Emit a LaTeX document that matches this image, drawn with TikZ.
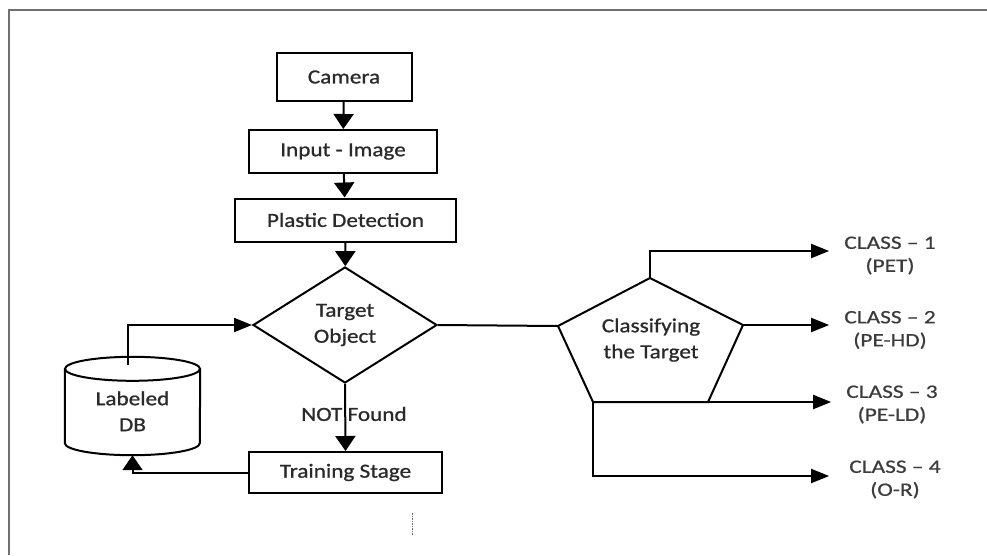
\documentclass[tikz,border=0pt]{standalone}
\usepackage{fontspec}
\setmainfont{Carlito}[FakeStretch=1.16, FakeBold=0.9]
\newfontfamily\clsfont{Carlito}[FakeStretch=1.23, FakeBold=0.6]
\usetikzlibrary{shapes.geometric, arrows.meta}
\definecolor{txt}{HTML}{2A2A2A}
\definecolor{clstxt}{HTML}{3C3C3C}
\definecolor{framec}{HTML}{707070}
\begin{document}
\begin{tikzpicture}[x=1pt,y=-1pt,
  lbl/.style={font=\fontsize{20}{26}\selectfont, text=txt, align=center},
  box/.style={lbl, draw, line width=2pt, inner sep=0pt},
  ln/.style={line width=2pt},
  varr/.style={ln, -{Triangle[length=15pt,width=20pt]}},
  harr/.style={ln, -{Triangle[length=18pt,width=14pt]}},
  cls/.style={font=\clsfont\fontsize{19}{23}\selectfont, text=clstxt, align=center, inner xsep=15pt, inner ysep=0pt}]
\useasboundingbox (0,0) rectangle (987,555);
\fill[white] (0,0) rectangle (987,555);
\draw[framec, line width=2.2pt] (987,10) -- (9,10) -- (9,555);

% main column
\node[box, minimum width=135pt, minimum height=48pt] (cam) at (344,77) {Camera};
\node[box, minimum width=188pt, minimum height=43pt] (inp) at (343,151.5) {Input - Image};
\node[box, minimum width=221pt, minimum height=43pt] (pd) at (345.5,220) {Plastic Detection};
\node[box, diamond, aspect=1.586, minimum width=184pt, minimum height=116pt] (obj) at (345,325) {Target\\Object};
\node[box, minimum width=193pt, minimum height=41pt] (train) at (345.5,472.5) {Training Stage};

\draw[varr] (cam) -- (inp);
\draw[varr] (inp) -- (pd);
\draw[varr] (pd) -- (obj);
\draw[varr] (obj.south) -- (train.north);
\node[lbl] (nf) at (354,414) {NOT Found};

% labeled DB cylinder
\node[lbl, minimum width=135pt, minimum height=98pt, inner sep=0pt] (db) at (132.5,406)
  {\raisebox{-7pt}[\height][\depth]{\begin{tabular}{@{}c@{}}Labeled\\DB\end{tabular}}};
\draw[ln] ([yshift=-12pt]db.north west) -- ([yshift=12pt]db.south west)
  arc[start angle=180, end angle=360, x radius=67.5pt, y radius=12pt]
  -- ([yshift=-12pt]db.north east);
\draw[ln] ([yshift=-12pt]db.north) ellipse [x radius=67.5pt, y radius=12pt];

\draw[harr] ([xshift=-4.5pt,yshift=-8pt]db.north) |- (obj.west);
\draw[varr] (train.west) -| (db.south);

% dotted mark
\draw[framec, line width=1pt, dash pattern=on 1.5pt off 1pt] (412,513) -- (412,535);

% classifier pentagon
\coordinate (pt) at (650,278);
\coordinate (pr) at (743,325);
\coordinate (pbr) at (708,402);
\coordinate (pbl) at (593,402);
\coordinate (pl) at (558,326);
\draw[ln, line join=miter] (pt) -- (pr) -- (pbr) -- (pbl) -- (pl) -- cycle;
\node[lbl] (clsf) at (651,340) {Classifying\\the Target};
\draw[ln] (obj.east) -- (pl);

% classes
\node[cls] (c1) at (890,255.5) {CLASS – 1\\(PET)};
\node[cls] (c2) at (890,330) {CLASS – 2\\(PE-HD)};
\node[cls] (c3) at (892,404.5) {CLASS – 3\\(PE-LD)};
\node[cls, inner xsep=20pt] (c4) at (895,479.5) {CLASS – 4\\(O-R)};

\draw[harr] (pt) |- ([yshift=4.5pt]c1.west);
\draw[harr] (pr) -- (pr -| c2.west);
\draw[harr] (pbr) -- (pbr -| c3.west);
\draw[harr] (pbl) |- ([yshift=3.5pt]c4.west);
\end{tikzpicture}
\end{document}
